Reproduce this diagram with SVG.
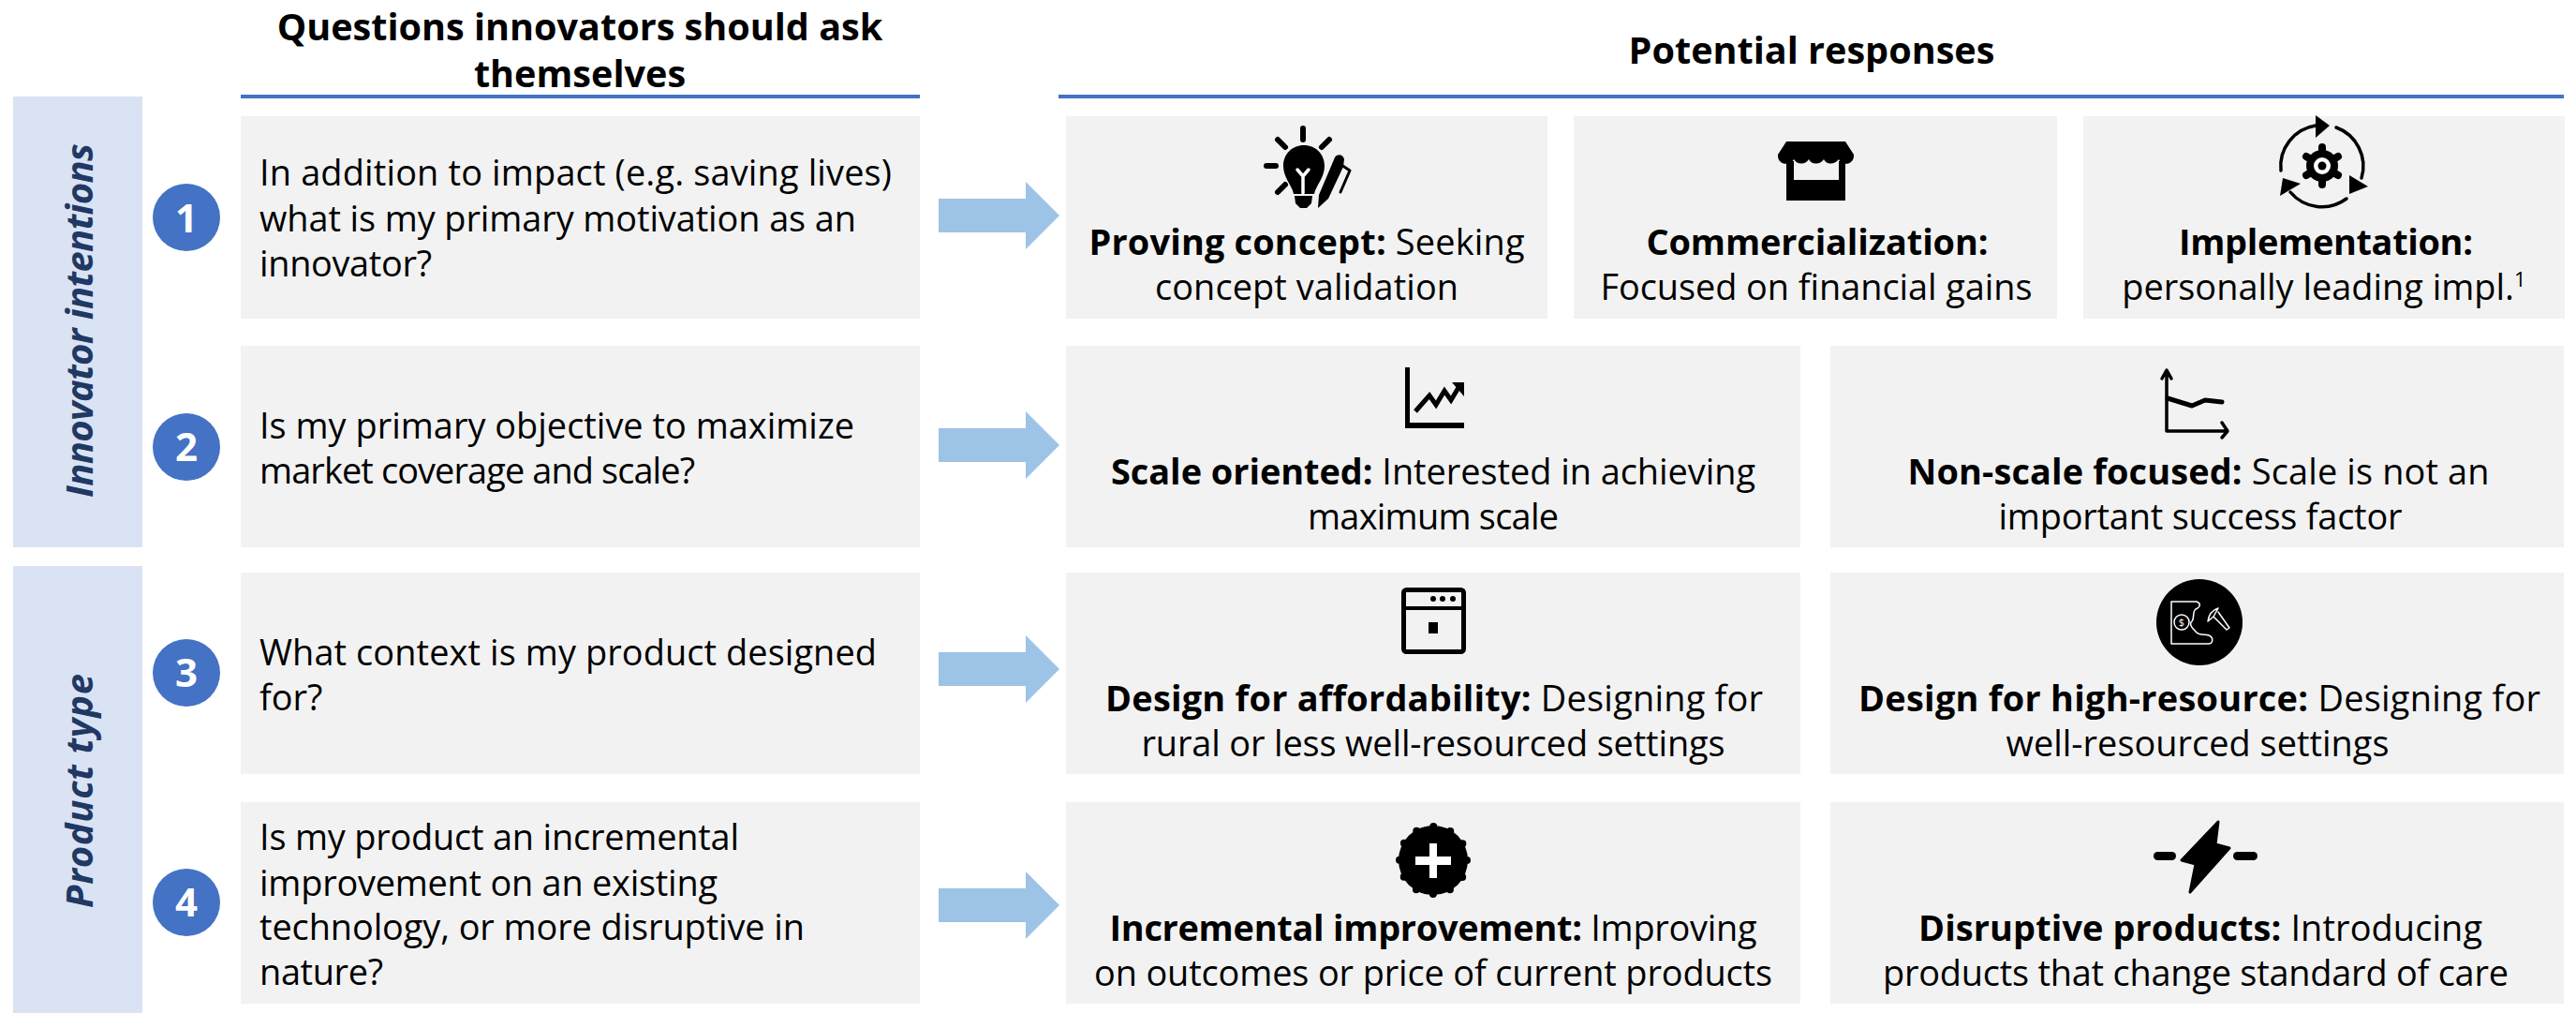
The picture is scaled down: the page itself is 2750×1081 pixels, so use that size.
<svg xmlns="http://www.w3.org/2000/svg" width="2750" height="1081" viewBox="0 0 2750 1081">
<style>
text{font-family:"Open Sans","Noto Sans",sans-serif;fill:#000;font-size:37.900px}
.box{fill:#F2F2F2}
.tab{fill:#DAE3F3}
.rule{fill:#4472C4}
.num{fill:#4472C4}
.numt{fill:#fff;font-size:42px;font-weight:700;text-anchor:middle}
.hd{font-weight:700;font-size:39.6px;text-anchor:middle}
.c{text-anchor:middle}
.b{font-weight:700}
.side{font-weight:700;font-style:italic;font-size:40px;fill:#203864;text-anchor:middle}
.arrow{fill:#9DC3E6}
.k{fill:#000}
.w{fill:#fff}
.ks{fill:none;stroke:#000;stroke-linecap:round;stroke-linejoin:round}
.ws{fill:none;stroke:#fff;stroke-linecap:round;stroke-linejoin:round}
</style>
<rect width="2750" height="1081" fill="#fff"/>
<g id="header-questions"><text class="hd" x="619" y="43">Questions innovators should ask</text><text class="hd" x="619" y="93">themselves</text><rect class="rule" x="257" y="101" width="725" height="4"/></g>
<g id="header-responses"><text class="hd" x="1934" y="68">Potential responses</text><rect class="rule" x="1130" y="101" width="1607" height="4"/></g>
<g id="tab-intentions"><rect class="tab" x="14" y="103" width="138" height="481"/><text class="side" transform="translate(99 342) rotate(-90)" textLength="378">Innovator intentions</text></g>
<g id="tab-product"><rect class="tab" x="14" y="604" width="138" height="477"/><text class="side" transform="translate(99 844) rotate(-90)" textLength="250">Product type</text></g>

<g id="q1"><rect class="box" x="257" y="124" width="725" height="216"/><circle class="num" cx="199" cy="232" r="36"/><text class="numt" x="199" y="248">1</text>
<text x="277" y="198" textLength="675">In addition to impact (e.g. saving lives)</text><text x="277" y="247" textLength="637">what is my primary motivation as an</text><text x="277" y="295" textLength="184">innovator?</text></g>
<g id="q2"><rect class="box" x="257" y="369" width="725" height="215"/><circle class="num" cx="199" cy="477" r="36"/><text class="numt" x="199" y="492">2</text>
<text x="277" y="468" textLength="635">Is my primary objective to maximize</text><text x="277" y="516" textLength="465">market coverage and scale?</text></g>
<g id="q3"><rect class="box" x="257" y="611" width="725" height="215"/><circle class="num" cx="199" cy="718" r="36"/><text class="numt" x="199" y="733">3</text>
<text x="277" y="710" textLength="659">What context is my product designed</text><text x="277" y="758">for?</text></g>
<g id="q4"><rect class="box" x="257" y="856" width="725" height="215"/><circle class="num" cx="199" cy="963" r="36"/><text class="numt" x="199" y="978">4</text>
<text x="277" y="907" textLength="512">Is my product an incremental</text><text x="277" y="956" textLength="489">improvement on an existing</text><text x="277" y="1003" textLength="582">technology, or more disruptive in</text><text x="277" y="1051" textLength="132">nature?</text></g>

<g id="connectors">
<polygon class="arrow" points="1002,212 1095,212 1095,194 1131,230 1095,266 1095,248 1002,248"/>
<polygon class="arrow" points="1002,457 1095,457 1095,439 1131,475 1095,511 1095,493 1002,493"/>
<polygon class="arrow" points="1002,696 1095,696 1095,678 1131,714 1095,750 1095,732 1002,732"/>
<polygon class="arrow" points="1002,948 1095,948 1095,930 1131,966 1095,1002 1095,984 1002,984"/>
</g>

<g id="r-proving"><rect class="box" x="1138" y="124" width="514" height="216"/>
<g class="ks" stroke-width="6"><path d="M1391 137V149M1364 149L1372 157M1419 149L1411 157M1352 177H1362M1364 205L1372 197"/></g>
<path class="k" d="M1392 155C1405 155 1414 165 1414 177C1414 190 1405 197 1403 207H1381C1379 197 1370 190 1370 177C1370 165 1379 155 1392 155Z"/>
<path class="k" d="M1382 209H1401L1400 217L1395 222H1388L1383 217Z"/>
<path class="ws" stroke-width="3.500" d="M1391 206V188M1385 181L1391 188L1397 181"/>
<path class="k" d="M1407 222L1408 208L1425 168C1427 164 1434 164 1435 170L1434 178L1418 212Z"/>
<path class="ks" stroke-width="3" d="M1432 176L1441 182L1431 205"/>
<text class="c" x="1395" y="272" textLength="465"><tspan class="b">Proving concept:</tspan> Seeking</text><text class="c" x="1395" y="320" textLength="324">concept validation</text></g>

<g id="r-commercial"><rect class="box" x="1680" y="124" width="516" height="216"/>
<path class="k" d="M1907 151H1970L1979 165C1980 176 1966 178 1963 170C1958 176 1950 176 1947 170C1943 176 1934 176 1931 170C1927 176 1919 176 1915 170C1911 178 1897 176 1898 165Z"/>
<path class="k" d="M1907 172H1915V192H1963V172H1970V214H1907Z"/>
<text class="c b" x="1940" y="272" textLength="365">Commercialization:</text><text class="c" x="1939" y="320" textLength="461">Focused on financial gains</text></g>

<g id="r-implementation"><rect class="box" x="2224" y="124" width="514" height="216"/>
<path class="ks" stroke-width="3.500" d="M2435 182A44 44 0 0 1 2472 134M2494 136A44 44 0 0 1 2521 190M2505 212A44 44 0 0 1 2445 205"/>
<polygon class="k" points="2472,123 2487,134 2472,147"/><polygon class="k" points="2508,187 2528,199 2508,207"/><polygon class="k" points="2456,196 2434,209 2437,190"/>
<g class="ks" stroke-width="8"><path d="M2479 157V197M2462 167L2496 187M2462 187L2496 167"/></g>
<circle class="k" cx="2479" cy="177" r="17"/><circle class="w" cx="2479" cy="177" r="9"/><circle class="k" cx="2479" cy="177" r="4.500"/>
<text class="c b" x="2483" y="272" textLength="314">Implementation:</text><text class="c" x="2481" y="320">personally leading impl.<tspan font-size="22" dy="-14">1</tspan></text></g>

<g id="r-scale"><rect class="box" x="1138" y="369" width="784" height="215"/>
<path class="k" d="M1500 392H1505V451H1563V457H1500Z"/>
<path class="ks" stroke-width="5" style="stroke-linecap:butt;stroke-linejoin:miter" d="M1511 439L1526 422L1533 432L1542 417L1549 427L1558 412"/>
<polygon class="k" points="1550,408 1563,408 1563,423"/>
<text class="c" x="1530" y="517" textLength="688"><tspan class="b">Scale oriented:</tspan> Interested in achieving</text><text class="c" x="1530" y="565" textLength="268">maximum scale</text></g>

<g id="r-nonscale"><rect class="box" x="1954" y="369" width="783" height="215"/>
<path class="ks" stroke-width="3.500" d="M2313 460V396M2308 404L2313 395L2318 404M2313 460H2377M2372 451L2378 460L2372 467"/>
<path class="ks" stroke-width="5" d="M2314 425L2340 433L2354 427L2372 429"/>
<text class="c" x="2347" y="517" textLength="621"><tspan class="b">Non-scale focused:</tspan> Scale is not an</text><text class="c" x="2349" y="565" textLength="431">important success factor</text></g>

<g id="r-afford"><rect class="box" x="1138" y="611" width="784" height="215"/>
<rect class="ks" stroke-width="5" x="1498.500" y="629.500" width="64" height="66" rx="3"/>
<rect class="k" x="1498" y="647" width="66" height="4"/>
<circle class="k" cx="1530" cy="639" r="3"/><circle class="k" cx="1540" cy="639" r="3"/><circle class="k" cx="1551" cy="639" r="3"/>
<rect class="k" x="1525" y="664" width="10" height="12"/>
<text class="c" x="1531" y="759" textLength="702"><tspan class="b">Design for affordability:</tspan> Designing for</text><text class="c" x="1530" y="807" textLength="623">rural or less well-resourced settings</text></g>

<g id="r-resource"><rect class="box" x="1954" y="611" width="783" height="215"/>
<circle class="k" cx="2348" cy="664" r="46"/>
<path class="ws" stroke-width="1.500" d="M2345 642C2350 644 2349 648 2344 650C2340 653 2343 660 2340 663C2336 666 2341 671 2345 675C2349 679 2354 676 2358 678C2363 680 2363 686 2358 687H2318V642Z"/>
<circle class="ws" stroke-width="1.500" cx="2329" cy="664" r="8"/>
<text x="2329" y="668" class="c" style="fill:#fff;font-size:11px">$</text>
<path class="ws" stroke-width="1.500" d="M2368 653L2380 670L2377 672L2363 658M2357 663C2358 656 2362 651 2368 649L2363 658Z"/>
<text class="c" x="2348" y="759" textLength="728"><tspan class="b">Design for high-resource:</tspan> Designing for</text><text class="c" x="2346" y="807" textLength="409">well-resourced settings</text></g>

<g id="r-incremental"><rect class="box" x="1138" y="856" width="784" height="215"/>
<circle class="k" cx="1530" cy="918" r="37"/><circle cx="1530" cy="918" r="36" fill="none" stroke="#000" stroke-width="8" stroke-linecap="round" stroke-dasharray="0 18.85"/>
<path class="w" d="M1526 900H1534V914H1549V923H1534V937H1526V923H1511V914H1526Z"/>
<text class="c" x="1530" y="1004" textLength="691"><tspan class="b">Incremental improvement:</tspan> Improving</text><text class="c" x="1530" y="1052" textLength="724">on outcomes or price of current products</text></g>

<g id="r-disruptive"><rect class="box" x="1954" y="856" width="783" height="215"/>
<path class="k" stroke="#000" stroke-width="3" stroke-linejoin="round" d="M2368 877L2329 918L2344 922L2338 952L2380 905L2365 901Z"/>
<rect class="k" x="2299" y="909" width="24" height="9" rx="4.500"/><rect class="k" x="2384" y="909" width="26" height="9" rx="4.500"/>
<text class="c" x="2349" y="1004" textLength="602"><tspan class="b">Disruptive products:</tspan> Introducing</text><text class="c" x="2344" y="1052" textLength="668">products that change standard of care</text></g>
</svg>
